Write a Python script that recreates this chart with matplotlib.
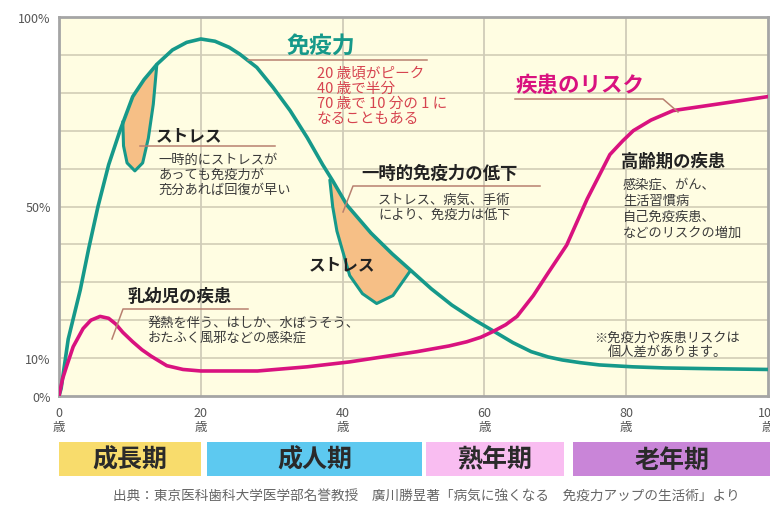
import matplotlib
matplotlib.use('Agg')
import matplotlib.pyplot as plt
import numpy as np

plt.rcParams['font.family'] = ['Noto Sans CJK JP', 'DejaVu Sans']

# immune curve (age, %)
imm_age = [0, 0.3, 1.3, 3, 4.2, 5.5, 7, 8.6, 10.4, 12, 13.8, 16, 18, 20, 22, 24, 25.5, 27.9, 30.2, 32.6,
           35, 37.2, 38.6, 40.6, 44, 47, 49.7, 52.5, 55.4, 58.5, 61.4, 64, 66.6, 69, 71, 73.5, 76.2,
           80.9, 85.5, 92, 100]
imm_val = [0, 2, 15, 28, 39, 50, 61, 70, 79, 83.5, 87.5, 91.3, 93.3, 94.2, 93.6, 92, 90.2, 86.7, 81.4, 75.3,
           68.2, 61, 56.8, 50.4, 43, 37.5, 33, 28.3, 24, 20.2, 17, 14.1, 11.7, 10.3, 9.5, 8.8, 8.2,
           7.7, 7.4, 7.2, 7]

# disease risk curve
risk_age = [0, 0.5, 1.1, 2, 3.4, 4.5, 5.8, 7, 8, 9, 10.4, 11.7, 13, 15.2, 17.5, 20, 28, 35, 41,
            50.5, 55, 57.5, 59.5, 61.2, 63, 64.6, 66.9, 69, 71.6, 74.5, 77.7, 79.5, 81, 83.5,
            86.6, 92.8, 100]
risk_val = [0, 4.5, 8, 13, 17.8, 20, 21, 20.5, 19, 16.8, 14.3, 12.2, 10.5, 8, 7, 6.6, 6.6, 7.7, 9,
            11.7, 13.2, 14.3, 15.5, 17, 18.8, 21, 26.5, 32.5, 39.8, 52, 63.7, 67.3, 70, 72.8,
            75.3, 77, 79]

# stress dips (leave the curve and come back)
dip1_age = [9, 9.1, 9.6, 10.7, 11.8, 12.6, 13.3, 13.8]
dip1_val = [72.4, 66, 61.5, 59.4, 61.5, 68, 77, 87.5]
dip2_age = [38.2, 38.6, 39.2, 41, 42.8, 44.8, 47.1, 49.5]
dip2_val = [57, 50, 43.5, 31.8, 27, 24.4, 26.5, 32.9]

y_ticks = [0, 10, 50, 100]
x_ticks = [0, 20, 40, 60, 80, 100]

stages = ['成長期', '成人期', '熟年期', '老年期']
stage_start = [0, 20.9, 51.8, 72.5]
stage_end = [20, 51.2, 71.2, 100.5]
stage_col = ['#F8DC6C', '#5DC9F0', '#F9BDF1', '#C985D8']

teal = '#16998A'
mag = '#D9127F'
lead = '#B88070'

fig = plt.figure(figsize=(7.7, 5.1), dpi=100)
ax = fig.add_axes([59/770, 1-397/510, 709/770, 379/510])
ax.set_facecolor('#FFFDE2')
ax.set_xlim(0, 100)
ax.set_ylim(0, 100)
for g in range(10, 100, 10):
    ax.axhline(g, color='#D8D4BC', lw=1.4, zorder=0)
for g in [20, 40, 60, 80]:
    ax.axvline(g, color='#D0CCB8', lw=1.3, zorder=0)
for s in ax.spines.values():
    s.set_color('#A5A5A5')
    s.set_linewidth(2)

ax.set_yticks(y_ticks)
ax.set_yticklabels([f'{v}%' for v in y_ticks], fontsize=9, color='#555555')
ax.set_xticks(x_ticks)
ax.set_xticklabels([f'{v}\n歳' for v in x_ticks], fontsize=9, color='#555555', linespacing=1.1)
ax.tick_params(axis='x', length=0, pad=7)
ax.tick_params(axis='y', length=0, pad=6)

# stress fills
def loop(da, dv):
    a = np.array(imm_age)
    v = np.array(imm_val)
    m = (a > da[0]) & (a < da[-1])
    return list(da) + list(a[m][::-1]), list(dv) + list(v[m][::-1])

for da, dv in [(dip1_age, dip1_val), (dip2_age, dip2_val)]:
    px, py = loop(da, dv)
    ax.fill(px, py, color='#F6BF86', zorder=2, lw=0)
    ax.plot(da, dv, color=teal, lw=2.2, zorder=3, solid_capstyle='round')

ax.plot(imm_age, imm_val, color=teal, lw=2.6, zorder=4, solid_joinstyle='round')
ax.plot(risk_age, risk_val, color=mag, lw=2.6, zorder=4, solid_joinstyle='round')

def px2d(x, y):
    return (x - 59) / 7.09, (397 - y) / 3.79

def leader(pts):
    d = [px2d(x, y) for x, y in pts]
    ax.plot([p[0] for p in d], [p[1] for p in d], color=lead, lw=1.1, zorder=5)

def txt(x, y, s, **kw):
    a, b = px2d(x, y)
    ax.text(a, b, s, va='center', ha='left', zorder=6, **kw)

dark = '#222222'
grey = '#3A3A3A'

# 免疫力
txt(286, 46, '免疫力', fontsize=16.5, fontweight='bold', color=teal)
leader([(248, 61), (427, 61)])
for i, s in enumerate(['20 歳頃がピーク', '40 歳で半分', '70 歳で 10 分の 1 に', 'なることもある']):
    txt(317, 73 + i * 15.5, s, fontsize=10.5, color='#D6434F')

# stress 1
txt(156, 136, 'ストレス', fontsize=12, fontweight='bold', color=dark)
leader([(140, 147), (275, 147)])
for i, s in enumerate(['一時的にストレスが', 'あっても免疫力が', '充分あれば回復が早い']):
    txt(158, 160 + i * 15, s, fontsize=9.5, color=grey)

# 一時的免疫力の低下
txt(361, 174, '一時的免疫力の低下', fontsize=12.5, fontweight='bold', color=dark)
leader([(343, 213), (353, 187), (540, 187)])
for i, s in enumerate(['ストレス、病気、手術', 'により、免疫力は低下']):
    txt(378, 200 + i * 15, s, fontsize=9.5, color=grey)

txt(309, 265, 'ストレス', fontsize=12, fontweight='bold', color=dark)

# 乳幼児の疾患
txt(128, 297, '乳幼児の疾患', fontsize=12.5, fontweight='bold', color=dark)
leader([(112, 340), (123, 310), (248, 310)])
for i, s in enumerate(['発熱を伴う、はしか、水ぼうそう、', 'おたふく風邪などの感染症']):
    txt(148, 323 + i * 15, s, fontsize=9.5, color=grey)

# 疾患のリスク
txt(516, 86, '疾患のリスク', fontsize=15.5, fontweight='bold', color=mag)
leader([(515, 100), (663, 100), (678, 113)])

# 高齢期の疾患
txt(621, 162, '高齢期の疾患', fontsize=12.5, fontweight='bold', color=dark)
for i, s in enumerate(['感染症、がん、', '生活習慣病', '自己免疫疾患、', 'などのリスクの増加']):
    txt(623, 185 + i * 16, s, fontsize=9.5, color=grey)

txt(594, 338, '※免疫力や疾患リスクは', fontsize=9.5, color=grey)
txt(608, 353, '個人差があります。', fontsize=9.5, color=grey)

# life stage bands
bx = fig.add_axes([59/770, 1-477/510, 709/770, 34/510])
bx.set_xlim(0, 100)
bx.set_ylim(0, 1)
bx.axis('off')
for name, s0, s1, c in zip(stages, stage_start, stage_end, stage_col):
    bx.axvspan(s0, s1, color=c, lw=0, clip_on=False)
    bx.text((s0 + s1) / 2, 0.48, name, ha='center', va='center', fontsize=18,
            fontweight='bold', color='#2A2A2A', clip_on=False)

fig.text(113/770, 1-497/510, '出典：東京医科歯科大学医学部名誉教授　廣川勝昱著「病気に強くなる　免疫力アップの生活術」より',
         fontsize=9.8, color='#666666', va='center', ha='left')

fig.savefig('out.png', dpi=100)
